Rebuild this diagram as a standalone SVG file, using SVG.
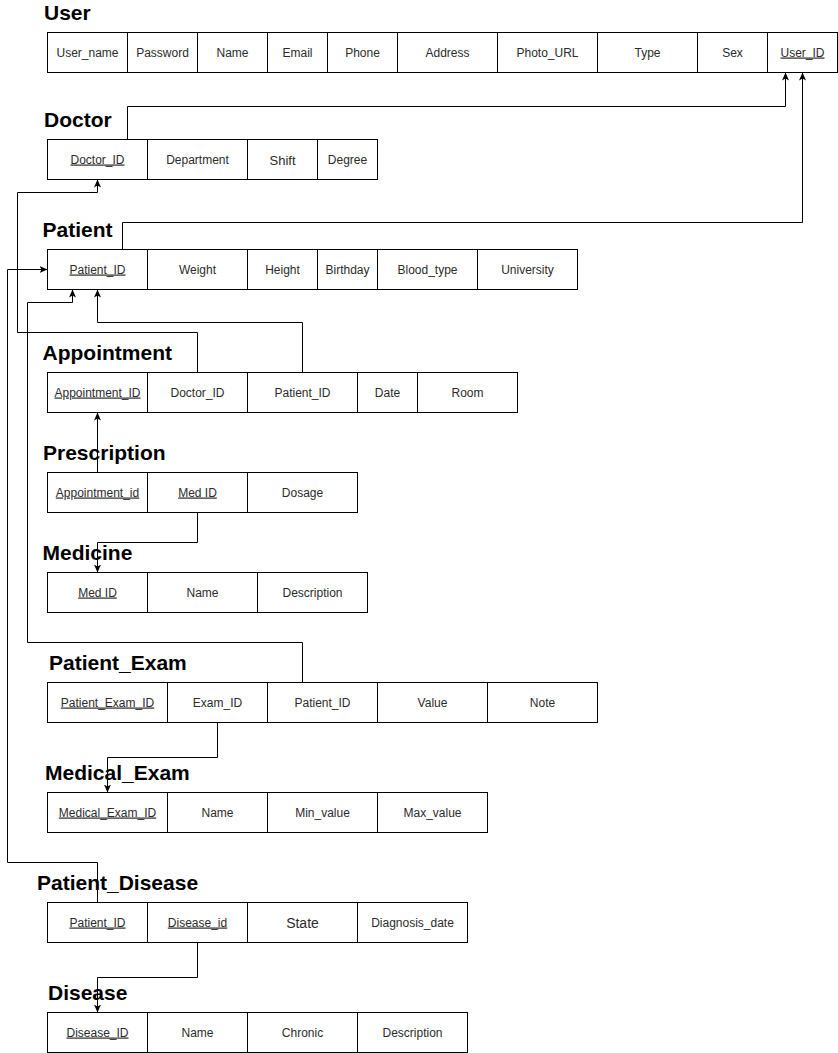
<svg xmlns="http://www.w3.org/2000/svg" width="838" height="1053" viewBox="0 0 838 1053">
<style>
.c{fill:#fff;stroke:#000;stroke-width:1}
.t{font-family:"Liberation Sans",Arial,sans-serif;font-size:12px;fill:#2b2b2b;text-anchor:middle}
.u{text-decoration:underline}
.h{font-family:"Liberation Sans",Arial,sans-serif;font-size:21px;font-weight:bold;fill:#000}
.e{fill:none;stroke:#000;stroke-width:1;marker-end:url(#arr)}
</style>
<defs>
<marker id="arr" markerWidth="10" markerHeight="10" refX="8" refY="4" orient="auto" markerUnits="userSpaceOnUse"><path d="M0,0.5 L8,4 L0,7.5 L2,4 Z" fill="#000"/></marker>
</defs>
<rect width="838" height="1053" fill="#fff"/>

<g id="user">
<text class="h" x="44" y="20">User</text>
<rect class="c" x="47.5" y="32.5" width="80" height="40"/><text class="t" x="87.5" y="56.5">User_name</text>
<rect class="c" x="127.5" y="32.5" width="70" height="40"/><text class="t" x="162.5" y="56.5">Password</text>
<rect class="c" x="197.5" y="32.5" width="70" height="40"/><text class="t" x="232.5" y="56.5">Name</text>
<rect class="c" x="267.5" y="32.5" width="60" height="40"/><text class="t" x="297.5" y="56.5">Email</text>
<rect class="c" x="327.5" y="32.5" width="70" height="40"/><text class="t" x="362.5" y="56.5">Phone</text>
<rect class="c" x="397.5" y="32.5" width="100" height="40"/><text class="t" x="447.5" y="56.5">Address</text>
<rect class="c" x="497.5" y="32.5" width="100" height="40"/><text class="t" x="547.5" y="56.5">Photo_URL</text>
<rect class="c" x="597.5" y="32.5" width="100" height="40"/><text class="t" x="647.5" y="56.5">Type</text>
<rect class="c" x="697.5" y="32.5" width="70" height="40"/><text class="t" x="732.5" y="56.5">Sex</text>
<rect class="c" x="767.5" y="32.5" width="70" height="40"/><text class="t u" x="802.5" y="56.5">User_ID</text>
</g>

<g id="doctor">
<text class="h" x="44" y="127">Doctor</text>
<rect class="c" x="47.5" y="139.5" width="100" height="40"/><text class="t u" x="97.5" y="163.5">Doctor_ID</text>
<rect class="c" x="147.5" y="139.5" width="100" height="40"/><text class="t" x="197.5" y="163.5">Department</text>
<rect class="c" x="247.5" y="139.5" width="70" height="40"/><text class="t" x="282.5" y="164.5" style="font-size:13px">Shift</text>
<rect class="c" x="317.5" y="139.5" width="60" height="40"/><text class="t" x="347.5" y="163.5">Degree</text>
</g>

<g id="patient">
<text class="h" x="42.5" y="237">Patient</text>
<rect class="c" x="47.5" y="249.5" width="100" height="40"/><text class="t u" x="97.5" y="273.5">Patient_ID</text>
<rect class="c" x="147.5" y="249.5" width="100" height="40"/><text class="t" x="197.5" y="273.5">Weight</text>
<rect class="c" x="247.5" y="249.5" width="70" height="40"/><text class="t" x="282.5" y="273.5">Height</text>
<rect class="c" x="317.5" y="249.5" width="60" height="40"/><text class="t" x="347.5" y="273.5">Birthday</text>
<rect class="c" x="377.5" y="249.5" width="100" height="40"/><text class="t" x="427.5" y="273.5">Blood_type</text>
<rect class="c" x="477.5" y="249.5" width="100" height="40"/><text class="t" x="527.5" y="273.5">University</text>
</g>

<g id="appointment">
<text class="h" x="42.5" y="360">Appointment</text>
<rect class="c" x="47.5" y="372.5" width="100" height="40"/><text class="t u" x="97.5" y="396.5">Appointment_ID</text>
<rect class="c" x="147.5" y="372.5" width="100" height="40"/><text class="t" x="197.5" y="396.5">Doctor_ID</text>
<rect class="c" x="247.5" y="372.5" width="110" height="40"/><text class="t" x="302.5" y="396.5">Patient_ID</text>
<rect class="c" x="357.5" y="372.5" width="60" height="40"/><text class="t" x="387.5" y="396.5">Date</text>
<rect class="c" x="417.5" y="372.5" width="100" height="40"/><text class="t" x="467.5" y="396.5">Room</text>
</g>

<g id="prescription">
<text class="h" x="43" y="460">Prescription</text>
<rect class="c" x="47.5" y="472.5" width="100" height="40"/><text class="t u" x="97.5" y="496.5">Appointment_id</text>
<rect class="c" x="147.5" y="472.5" width="100" height="40"/><text class="t u" x="197.5" y="496.5">Med ID</text>
<rect class="c" x="247.5" y="472.5" width="110" height="40"/><text class="t" x="302.5" y="496.5">Dosage</text>
</g>

<g id="medicine">
<text class="h" x="42.5" y="560">Medicine</text>
<rect class="c" x="47.5" y="572.5" width="100" height="40"/><text class="t u" x="97.5" y="596.5">Med ID</text>
<rect class="c" x="147.5" y="572.5" width="110" height="40"/><text class="t" x="202.5" y="596.5">Name</text>
<rect class="c" x="257.5" y="572.5" width="110" height="40"/><text class="t" x="312.5" y="596.5">Description</text>
</g>

<g id="patient_exam">
<text class="h" x="49" y="670">Patient_Exam</text>
<rect class="c" x="47.5" y="682.5" width="120" height="40"/><text class="t u" x="107.5" y="706.5">Patient_Exam_ID</text>
<rect class="c" x="167.5" y="682.5" width="100" height="40"/><text class="t" x="217.5" y="706.5">Exam_ID</text>
<rect class="c" x="267.5" y="682.5" width="110" height="40"/><text class="t" x="322.5" y="706.5">Patient_ID</text>
<rect class="c" x="377.5" y="682.5" width="110" height="40"/><text class="t" x="432.5" y="706.5">Value</text>
<rect class="c" x="487.5" y="682.5" width="110" height="40"/><text class="t" x="542.5" y="706.5">Note</text>
</g>

<g id="medical_exam">
<text class="h" x="45" y="780">Medical_Exam</text>
<rect class="c" x="47.5" y="792.5" width="120" height="40"/><text class="t u" x="107.5" y="816.5">Medical_Exam_ID</text>
<rect class="c" x="167.5" y="792.5" width="100" height="40"/><text class="t" x="217.5" y="816.5">Name</text>
<rect class="c" x="267.5" y="792.5" width="110" height="40"/><text class="t" x="322.5" y="816.5">Min_value</text>
<rect class="c" x="377.5" y="792.5" width="110" height="40"/><text class="t" x="432.5" y="816.5">Max_value</text>
</g>

<g id="patient_disease">
<text class="h" x="37" y="890">Patient_Disease</text>
<rect class="c" x="47.5" y="902.5" width="100" height="40"/><text class="t u" x="97.5" y="926.5">Patient_ID</text>
<rect class="c" x="147.5" y="902.5" width="100" height="40"/><text class="t u" x="197.5" y="926.5">Disease_id</text>
<rect class="c" x="247.5" y="902.5" width="110" height="40"/><text class="t" x="302.5" y="927.5" style="font-size:14px">State</text>
<rect class="c" x="357.5" y="902.5" width="110" height="40"/><text class="t" x="412.5" y="926.5">Diagnosis_date</text>
</g>

<g id="disease">
<text class="h" x="48" y="1000">Disease</text>
<rect class="c" x="47.5" y="1012.5" width="100" height="40"/><text class="t u" x="97.5" y="1036.5">Disease_ID</text>
<rect class="c" x="147.5" y="1012.5" width="100" height="40"/><text class="t" x="197.5" y="1036.5">Name</text>
<rect class="c" x="247.5" y="1012.5" width="110" height="40"/><text class="t" x="302.5" y="1036.5">Chronic</text>
<rect class="c" x="357.5" y="1012.5" width="110" height="40"/><text class="t" x="412.5" y="1036.5">Description</text>
</g>

<g id="connectors">
<path class="e" d="M127.5,139.5 V106.5 H785.5 V72.5"/>
<path class="e" d="M122.5,249.5 V222.5 H802.5 V72.5"/>
<path class="e" d="M197.5,372.5 V332.5 H17.5 V192.5 H97.5 V179.5"/>
<path class="e" d="M302.5,372.5 V322.5 H97.5 V289.5"/>
<path class="e" d="M302.5,682.5 V642.5 H27.5 V302.5 H72.5 V289.5"/>
<path class="e" d="M97.5,902.5 V862.5 H7.5 V269.5 H47.5"/>
<path class="e" d="M97.5,472.5 V412.5"/>
<path class="e" d="M197.5,512.5 V542.5 H97.5 V572.5"/>
<path class="e" d="M217.5,722.5 V757.5 H107.5 V792.5"/>
<path class="e" d="M197.5,942.5 V977.5 H97.5 V1012.5"/>
</g>
</svg>
